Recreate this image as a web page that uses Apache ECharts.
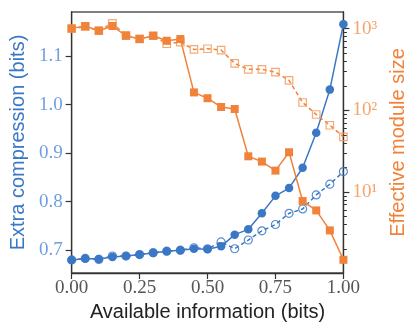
<!DOCTYPE html>
<html lang="en">
<head>
<meta charset="utf-8">
<title>Extra compression vs module size</title>
<script src="https://cdn.jsdelivr.net/npm/echarts@6/dist/echarts.min.js"></script>
<style>
  html, body { margin: 0; padding: 0; background: #fff; }
  #main { width: 416px; height: 335px; }
</style>
</head>
<body>
<div id="main"></div>
<script>
// available information (bits)
var info = [0.00, 0.05, 0.10, 0.15, 0.20, 0.25, 0.30, 0.35, 0.40, 0.45, 0.50,
            0.55, 0.60, 0.65, 0.70, 0.75, 0.80, 0.85, 0.90, 0.95, 1.00];

// extra compression (bits), left axis
var compSolid  = [0.680, 0.683, 0.682, 0.686, 0.688, 0.691, 0.694, 0.698, 0.700, 0.703, 0.702,
                  0.708, 0.732, 0.743, 0.776, 0.812, 0.828, 0.870, 0.942, 1.031, 1.166];
var compDashed = [0.680, 0.683, 0.681, 0.688, 0.688, 0.691, 0.695, 0.698, 0.700, 0.705, 0.703,
                  0.717, 0.703, 0.721, 0.740, 0.753, 0.776, 0.785, 0.814, 0.836, 0.862];

// effective module size, right (log) axis
var sizeSolid  = [1010, 1080, 945, 1080, 820, 748, 820, 713, 748, 166, 141,
                  110, 104, 27.4, 23.6, 18.3, 30.7, 7.76, 5.96, 3.39, 1.48];
var sizeDashed = [1000, 1060, 950, 1165, 830, 750, 820, 655, 685, 558, 569,
                  548, 376, 318, 318, 294, 233, 125, 89, 65.8, 47.3];

var xTicks = [0, 0.25, 0.5, 0.75, 1.0];
var leftTicks = [0.7, 0.8, 0.9, 1.0, 1.1];
var rightTicks = [10, 100, 1000];
var rightMinor = [2, 3, 4, 5, 6, 7, 8, 9, 20, 30, 40, 50, 60, 70, 80, 90,
                  200, 300, 400, 500, 600, 700, 800, 900];

var BLUE = '#3a78c6';
var ORANGE = '#f0823a';
var SUP = { 1: '\u00b9', 2: '\u00b2', 3: '\u00b3' };

function pairs(ys) {
  return info.map(function (x, i) { return [x, ys[i]]; });
}

var serifLabel = { fontFamily: 'Liberation Serif', fontSize: 19 };

var myChart = echarts.init(document.getElementById('main'), null, { renderer: 'canvas' });

var option = {
  animation: false,
  grid: {
    left: 68, right: 69, top: 12, bottom: 62,
    show: true, borderColor: '#555', borderWidth: 1.3, backgroundColor: 'transparent'
  },
  xAxis: {
    type: 'value', min: 0, max: 1,
    name: 'Available information (bits)',
    nameLocation: 'middle', nameGap: 27,
    nameTextStyle: { fontFamily: 'Liberation Sans', fontSize: 20, color: '#222' },
    axisLine: { lineStyle: { color: '#333', width: 1.3 } },
    axisTick: { customValues: xTicks, length: 6, lineStyle: { color: '#333', width: 1.2 } },
    axisLabel: {
      customValues: xTicks, margin: 6, color: '#555',
      fontFamily: serifLabel.fontFamily, fontSize: serifLabel.fontSize,
      formatter: function (v) { return v.toFixed(2); }
    },
    splitLine: { show: false }
  },
  yAxis: [
    {
      type: 'value', min: 0.653, max: 1.191, position: 'left',
      name: 'Extra compression (bits)',
      nameLocation: 'middle', nameGap: 39, nameRotate: 90,
      nameTextStyle: { fontFamily: 'Liberation Sans', fontSize: 20, color: BLUE },
      axisLine: { show: true, lineStyle: { color: '#333', width: 1.3 } },
      axisTick: { customValues: leftTicks, length: 6, lineStyle: { color: '#333', width: 1.2 } },
      axisLabel: {
        customValues: leftTicks, margin: 9, color: '#6f9fdc',
        fontFamily: serifLabel.fontFamily, fontSize: serifLabel.fontSize,
        formatter: function (v) { return v.toFixed(1); }
      },
      splitLine: { show: false }
    },
    {
      type: 'log', logBase: 10, min: 1.02, max: 1603, position: 'right',
      name: 'Effective module size',
      nameLocation: 'middle', nameGap: 33, nameRotate: 90,
      nameTextStyle: { fontFamily: 'Liberation Sans', fontSize: 20, color: ORANGE },
      axisLine: { show: true, lineStyle: { color: '#333', width: 1.3 } },
      axisTick: { customValues: rightTicks, length: 6, lineStyle: { color: '#333', width: 1.2 } },
      axisLabel: {
        customValues: rightTicks, margin: 9, color: '#f5a46c',
        fontFamily: serifLabel.fontFamily, fontSize: serifLabel.fontSize,
        formatter: function (v) { return '10' + SUP[Math.round(Math.log10(v))]; }
      },
      splitLine: { show: false }
    },
    {
      type: 'log', logBase: 10, min: 1.02, max: 1603, position: 'right',
      axisLine: { show: false },
      axisTick: { customValues: rightMinor, length: 3.5, lineStyle: { color: '#333', width: 1 } },
      axisLabel: { show: false },
      splitLine: { show: false }
    }
  ],
  series: [
    {
      type: 'line', yAxisIndex: 0, data: pairs(compDashed),
      symbol: 'circle', symbolSize: 8, showAllSymbol: true,
      lineStyle: { color: BLUE, width: 1.5, type: [4, 3] },
      itemStyle: { color: 'rgba(0,0,0,0)', borderColor: BLUE, borderWidth: 1.2, opacity: 0.85 }
    },
    {
      type: 'line', yAxisIndex: 0, data: pairs(compSolid),
      symbol: 'circle', symbolSize: 8.5, showAllSymbol: true,
      lineStyle: { color: BLUE, width: 1.5 },
      itemStyle: { color: BLUE }
    },
    {
      type: 'line', yAxisIndex: 1, data: pairs(sizeDashed),
      symbol: 'rect', symbolSize: 7.5, showAllSymbol: true,
      lineStyle: { color: ORANGE, width: 1.5, type: [4, 3] },
      itemStyle: { color: 'rgba(0,0,0,0)', borderColor: '#f49a5c', borderWidth: 1.2, opacity: 0.85 }
    },
    {
      type: 'line', yAxisIndex: 1, data: pairs(sizeSolid),
      symbol: 'rect', symbolSize: 8, showAllSymbol: true,
      lineStyle: { color: ORANGE, width: 1.5 },
      itemStyle: { color: ORANGE }
    }
  ]
};

myChart.setOption(option);
</script>
</body>
</html>
